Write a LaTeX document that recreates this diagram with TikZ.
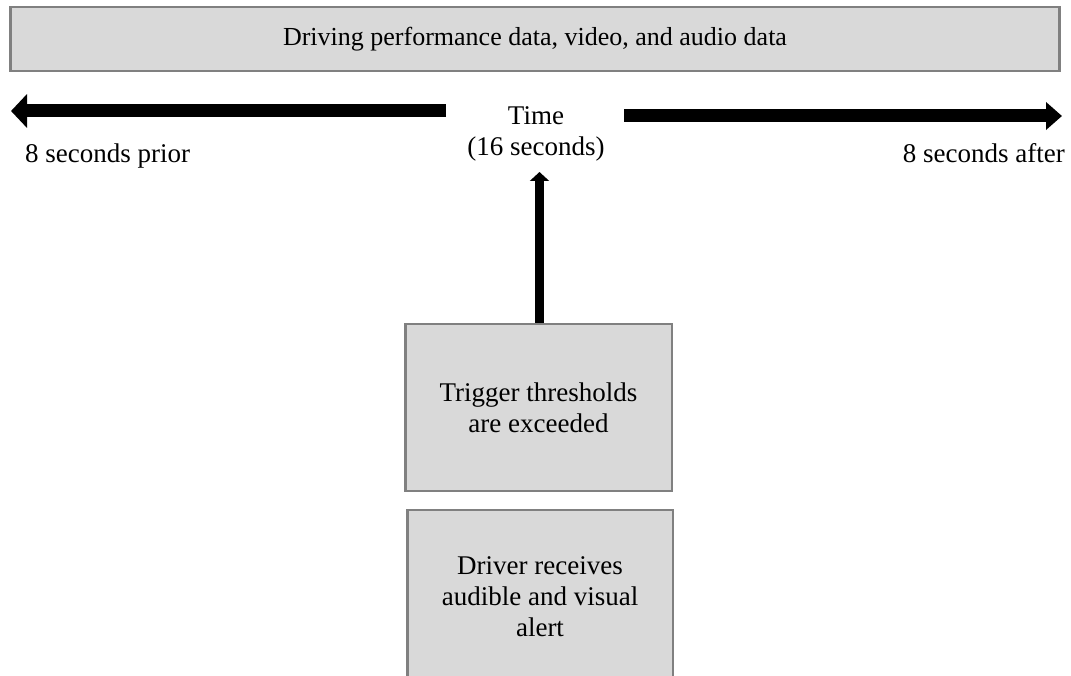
\documentclass[tikz,border=0pt]{standalone}
\usepackage{fontspec}
\setmainfont{Liberation Serif}
\usetikzlibrary{arrows.meta}
\definecolor{boxfill}{HTML}{D9D9D9}
\definecolor{boxline}{HTML}{808080}
\tikzset{
  txt/.style={font=\fontsize{27}{31}\selectfont, inner sep=0pt, align=center},
  graybox/.style={draw=boxline, line width=2.5pt, fill=boxfill, inner sep=0pt,
    font=\fontsize{27}{31}\selectfont, align=center},
  harrow/.style={line width=13pt, -{Triangle[width=33pt,length=16pt]}},
  harrowr/.style={line width=13pt, -{Triangle[width=27pt,length=16pt]}},
  varrow/.style={line width=9.5pt, -{Triangle[width=19pt,length=9pt]}}
}
\begin{document}
\begin{tikzpicture}[x=1pt,y=-1pt]
\useasboundingbox (0,0) rectangle (1071,676);
\clip (0,0) rectangle (1071,676);
% top box
\node[graybox, minimum width=1049pt, minimum height=64pt, font=\fontsize{26}{30}\selectfont] (data) at (535,39)
  {Driving performance data, video, and audio data};
% time label
\node[txt] (time) at (536,134) {Time\\(16 seconds)};
% arrows left/right
\coordinate (lstart) at (446,111);
\coordinate (lend) at (11,111);
\coordinate (rstart) at (624,116);
\coordinate (rend) at (1062,116);
\draw[harrow] (lstart) -- (lend);
\draw[harrowr] (rstart) -- (rend);
\node[txt, anchor=base west] (prior) at (25,163) {8 seconds prior};
\node[txt, anchor=base east] (after) at (1065,163) {8 seconds after};
% trigger box
\node[graybox, minimum width=266.5pt, minimum height=166.5pt] (trig) at (538.5,407.5)
  {Trigger thresholds\\are exceeded};
\coordinate (vtip) at (539.5,172);
\draw[varrow] (trig.north -| vtip) -- (vtip);
% driver box
\node[graybox, minimum width=265.5pt, minimum height=174pt] (driver) at (540,597)
  {Driver receives\\audible and visual\\alert};
\end{tikzpicture}
\end{document}
